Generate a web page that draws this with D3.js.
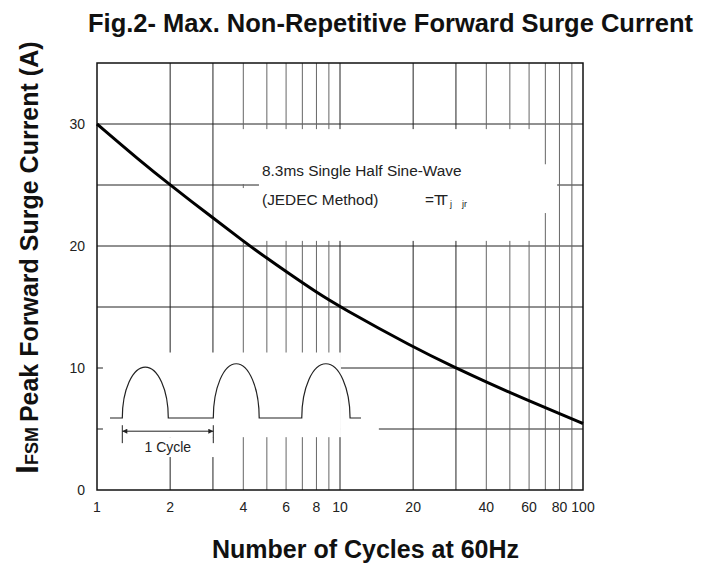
<!DOCTYPE html>
<html>
<head>
<meta charset="utf-8">
<script src="https://cdn.jsdelivr.net/npm/d3@7"></script>
<style>
  body { margin: 0; background: #fff; }
  svg { font-family: "Liberation Sans", Arial, sans-serif; }
</style>
</head>
<body>
<div id="chart"></div>
<script>
const W = 715, H = 565;
const plot = {left: 97, right: 583, top: 63, bottom: 490};

// surge curve
const cycles  = [1, 1.5, 2, 3, 4, 5, 6, 8, 10, 20, 30, 40, 60, 80, 100];
const current = [30, 27.0, 25, 22.3, 20.4, 19.0, 17.9, 16.2, 15, 11.7, 10, 8.85, 7.3, 6.25, 5.45];

const xTicks = [1, 2, 4, 6, 8, 10, 20, 40, 60, 80, 100];
const yTicks = [0, 10, 20, 30];
const xGrid = [2, 3, 4, 5, 6, 7, 8, 9, 10, 20, 30, 40, 50, 60, 70, 80, 90];
const xGridDark = [2, 3, 10, 20, 30];
const yGrid = [5, 10, 15, 20, 25, 30];

// white patches of the scan (cycles / amps)
const patches = [
  {x0: 1.058, x1: 10.09, y0: 4.33, y1: 11.27},
  {x0: 1.058, x1: 3.21, y0: 2.7, y1: 4.33},
  {x0: 10.09, x1: 14.45, y0: 4.33, y1: 7.35},
  {x0: 4.64, x1: 67.6, y0: 20.42, y1: 29.58},
  {x0: 3.88, x1: 4.64, y0: 25.08, y1: 29.58},
  {x0: 3.88, x1: 4.64, y0: 20.42, y1: 24.75},
  {x0: 66.7, x1: 78.3, y0: 22.7, y1: 26.7}
];

// inset half sine-wave sketch
const waveBase = 5.9;
const waveLead = 1.131, waveTail = 12.2;
const humps = [
  {start: 1.271, end: 1.965, peak: 10.07},
  {start: 3.01, end: 4.65, peak: 10.35},
  {start: 6.96, end: 11.0, peak: 10.35}
];
const cycleMark = {from: 1.271, to: 3.01, level: 4.82, top: 5.31, bottom: 3.84, label: 3.1};

const svg = d3.select("#chart").append("svg")
  .attr("width", W)
  .attr("height", H);

const x = d3.scaleLog().domain([1, 100]).range([plot.left, plot.right]);
const y = d3.scaleLinear().domain([0, 35]).range([plot.bottom, plot.top]);

// grid
svg.append("g")
  .selectAll("line")
  .data(yGrid)
  .enter()
  .append("line")
    .attr("x1", plot.left).attr("x2", plot.right)
    .attr("y1", d => y(d)).attr("y2", d => y(d))
    .attr("stroke", "#222").attr("stroke-width", 1);

svg.append("g")
  .selectAll("line")
  .data(xGrid)
  .enter()
  .append("line")
    .attr("x1", d => x(d)).attr("x2", d => x(d))
    .attr("y1", plot.top).attr("y2", plot.bottom)
    .attr("stroke", d => xGridDark.includes(d) ? "#222" : "#666")
    .attr("stroke-width", 1);

// white areas covering the grid
svg.append("g")
  .selectAll("rect")
  .data(patches)
  .enter()
  .append("rect")
    .attr("x", d => x(d.x0))
    .attr("y", d => y(d.y1))
    .attr("width", d => x(d.x1) - x(d.x0))
    .attr("height", d => y(d.y0) - y(d.y1))
    .attr("fill", "#fff");

// frame
svg.append("rect")
  .attr("x", plot.left).attr("y", plot.top)
  .attr("width", plot.right - plot.left)
  .attr("height", plot.bottom - plot.top)
  .attr("fill", "none")
  .attr("stroke", "#111")
  .attr("stroke-width", 1.5);

// tick labels
svg.append("g")
  .selectAll("text")
  .data(xTicks)
  .enter()
  .append("text")
    .attr("x", d => x(d))
    .attr("y", plot.bottom + 22)
    .attr("text-anchor", "middle")
    .attr("font-size", "14px")
    .attr("fill", "#222")
    .text(d => d);

svg.append("g")
  .selectAll("text")
  .data(yTicks)
  .enter()
  .append("text")
    .attr("x", plot.left - 12)
    .attr("y", d => y(d))
    .attr("dy", "0.35em")
    .attr("text-anchor", "end")
    .attr("font-size", "14px")
    .attr("fill", "#222")
    .text(d => d);

// surge curve
const curveData = cycles.map((c, i) => [c, current[i]]);
svg.append("path")
  .datum(curveData)
  .attr("fill", "none")
  .attr("stroke", "#000")
  .attr("stroke-width", 3)
  .attr("d", d3.line()
    .x(d => x(d[0]))
    .y(d => y(d[1]))
    .curve(d3.curveBasis));

// inset waveform
function wavePath() {
  const yb = y(waveBase), k = 0.552;
  let p = "M" + x(waveLead) + "," + yb;
  humps.forEach(h => {
    const x0 = x(h.start), x1 = x(h.end), yt = y(h.peak);
    const xm = (x0 + x1) / 2, hw = (x1 - x0) / 2, hh = yb - yt;
    p += "L" + x0 + "," + yb;
    p += "C" + x0 + "," + (yb - k * hh) + " " + (xm - k * hw) + "," + yt + " " + xm + "," + yt;
    p += "C" + (xm + k * hw) + "," + yt + " " + x1 + "," + (yb - k * hh) + " " + x1 + "," + yb;
  });
  p += "L" + x(waveTail) + "," + yb;
  return p;
}
svg.append("path")
  .attr("d", wavePath())
  .attr("fill", "none")
  .attr("stroke", "#222")
  .attr("stroke-width", 1.2);

const defs = svg.append("defs");
["start", "end"].forEach(kind => {
  defs.append("marker")
    .attr("id", "arrow-" + kind)
    .attr("viewBox", "0 0 10 10")
    .attr("refX", kind === "end" ? 10 : 0).attr("refY", 5)
    .attr("markerWidth", 9).attr("markerHeight", 5)
    .attr("markerUnits", "userSpaceOnUse")
    .attr("orient", "auto")
    .append("path")
      .attr("d", kind === "end" ? "M0,0L10,5L0,10Z" : "M10,0L0,5L10,10Z")
      .attr("fill", "#222");
});

svg.append("line")
  .attr("x1", x(cycleMark.from)).attr("x2", x(cycleMark.to))
  .attr("y1", y(cycleMark.level)).attr("y2", y(cycleMark.level))
  .attr("stroke", "#222")
  .attr("marker-start", "url(#arrow-start)")
  .attr("marker-end", "url(#arrow-end)");

svg.append("g")
  .selectAll("line")
  .data([cycleMark.from, cycleMark.to])
  .enter()
  .append("line")
    .attr("x1", d => x(d)).attr("x2", d => x(d))
    .attr("y1", y(cycleMark.top)).attr("y2", y(cycleMark.bottom))
    .attr("stroke", "#222");

svg.append("text")
  .attr("x", (x(cycleMark.from) + x(cycleMark.to)) / 2)
  .attr("y", y(cycleMark.label))
  .attr("text-anchor", "middle")
  .attr("font-size", "14px")
  .attr("fill", "#222")
  .text("1 Cycle");

// note box text
const note = svg.append("g").attr("fill", "#222");
note.append("text")
  .attr("x", 262).attr("y", 176)
  .attr("font-size", "15.4px")
  .text("8.3ms Single Half Sine-Wave");
note.append("text")
  .attr("x", 262).attr("y", 205)
  .attr("font-size", "15.4px")
  .text("(JEDEC Method)");
note.append("text")
  .attr("x", 425).attr("y", 205)
  .attr("font-size", "15.4px")
  .text("=");
note.append("text")
  .attr("x", 434).attr("y", 205)
  .attr("font-size", "15.4px")
  .attr("letter-spacing", "-5px")
  .text("TT");
note.append("text")
  .attr("x", 450).attr("y", 207)
  .attr("font-size", "9px")
  .text("j");
note.append("text")
  .attr("x", 462).attr("y", 207)
  .attr("font-size", "9px")
  .text("jr");

// titles
svg.append("text")
  .attr("x", 88).attr("y", 32)
  .attr("font-size", "25.5px")
  .attr("font-weight", "bold")
  .attr("fill", "#111")
  .text("Fig.2- Max. Non-Repetitive Forward Surge Current");

svg.append("text")
  .attr("x", 212).attr("y", 558)
  .attr("font-size", "25px")
  .attr("font-weight", "bold")
  .attr("fill", "#111")
  .text("Number of Cycles at 60Hz");

const yTitle = svg.append("text")
  .attr("transform", "translate(38,474) rotate(-90)")
  .attr("font-weight", "bold")
  .attr("fill", "#111");
yTitle.append("tspan").attr("font-size", "32px").text("I");
yTitle.append("tspan").attr("font-size", "18px").text("FSM ");
yTitle.append("tspan").attr("font-size", "25px").text("Peak Forward Surge Current (A)");
</script>
</body>
</html>
